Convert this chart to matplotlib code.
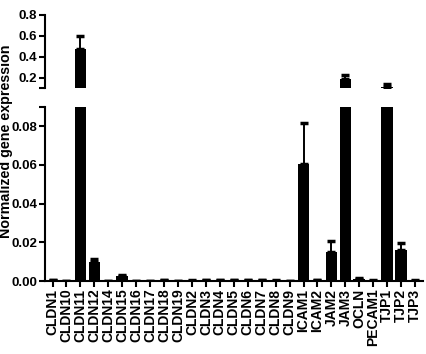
import matplotlib.pyplot as plt
from matplotlib import font_manager as fm
import numpy as np

# Arial-like bold face, pick the regular-width Liberation Sans Bold file
bold_files = [f.fname for f in fm.fontManager.ttflist
              if f.name == "Liberation Sans" and f.weight in (700, "bold")
              and "Narrow" not in f.fname]
if bold_files:
    fp = lambda s: fm.FontProperties(fname=bold_files[0], size=s)
else:
    fp = lambda s: fm.FontProperties(family="DejaVu Sans", weight="bold", size=s)

genes = ["CLDN1", "CLDN10", "CLDN11", "CLDN12", "CLDN14", "CLDN15", "CLDN16",
         "CLDN17", "CLDN18", "CLDN19", "CLDN2", "CLDN3", "CLDN4", "CLDN5",
         "CLDN6", "CLDN7", "CLDN8", "CLDN9", "ICAM1", "ICAM2", "JAM2", "JAM3",
         "OCLN", "PECAM1", "TJP1", "TJP2", "TJP3"]
values = [0.0005, 0.0, 0.475, 0.0100, 0.0, 0.0025, 0.0, 0.0, 0.0003, 0.0,
          0.0002, 0.0003, 0.0003, 0.0003, 0.0003, 0.0003, 0.0002, 0.0,
          0.0603, 0.0003, 0.0152, 0.19, 0.0012, 0.0002, 0.112, 0.0161, 0.0002]
errors = [0.0001, 0.0, 0.125, 0.0015, 0.0, 0.0005, 0.0, 0.0, 0.0001, 0.0,
          0.0001, 0.0001, 0.0001, 0.0001, 0.0001, 0.0001, 0.0001, 0.0,
          0.0213, 0.0001, 0.0057, 0.04, 0.0003, 0.0001, 0.028, 0.0038, 0.0001]

x = np.arange(len(genes))
vals = np.array(values)
errs = np.array(errors)

fig = plt.figure(figsize=(4.27, 3.54), dpi=100)
ax_top = fig.add_axes([0.105, 0.751, 0.885, 0.207])
ax_bot = fig.add_axes([0.105, 0.206, 0.885, 0.492])

top_min = 0.1
for ax in (ax_top, ax_bot):
    ax.bar(x, vals, width=0.83, color="black")
    m = np.ones(len(x), bool) if ax is ax_bot else (vals + errs > top_min)
    ax.errorbar(x[m], vals[m], yerr=[np.zeros(m.sum()), errs[m]], fmt="none",
                ecolor="black", elinewidth=1.4, capsize=2.7, capthick=2.5)
    ax.set_xlim(-0.55, len(genes) - 0.45)
    for s in ("top", "right"):
        ax.spines[s].set_visible(False)
    ax.spines["left"].set_linewidth(1.5)
    ax.spines["bottom"].set_linewidth(1.5)
    ax.tick_params(axis="both", width=1.5, length=4, pad=1.5)

ax_top.set_ylim(top_min, 0.8)
ax_top.set_yticks([0.1, 0.2, 0.4, 0.6, 0.8])
ax_top.set_yticklabels(["", "0.2", "0.4", "0.6", "0.8"], fontproperties=fp(9.5))
ax_top.spines["bottom"].set_visible(False)
ax_top.set_xticks([])

ax_bot.set_ylim(0, 0.09)
ax_bot.set_yticks([0, 0.02, 0.04, 0.06, 0.08, 0.09])
ax_bot.set_yticklabels(["0.00", "0.02", "0.04", "0.06", "0.08", ""],
                       fontproperties=fp(9.5))
ax_bot.set_xticks(x)
ax_bot.set_xticklabels(genes, rotation=90, fontproperties=fp(10))

fig.text(0.013, 0.60, "Normalized gene expression", rotation=90,
         ha="center", va="center", fontproperties=fp(10.3))

fig.savefig("out.png", dpi=100)
